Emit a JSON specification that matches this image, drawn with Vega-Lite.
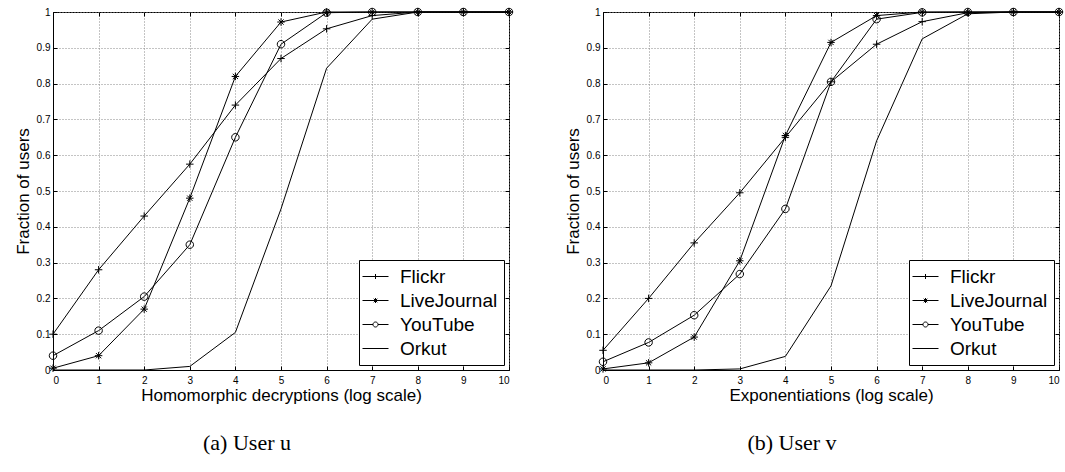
{
  "$schema": "https://vega.github.io/schema/vega-lite/v6.json",
  "padding": {"left": 13, "top": 5, "right": 0, "bottom": 0},
  "background": "white",
  "config": {
    "font": "Liberation Sans",
    "view": {"stroke": "black", "strokeWidth": 1},
    "axis": {"domainColor": "black", "tickColor": "black", "labelColor": "black", "titleColor": "black", "titleFontWeight": "normal", "labelFontSize": 10, "titleFontSize": 17, "gridDash": [1, 2], "gridColor": "#888", "gridOpacity": 1, "tickSize": -4},
    "axisX": {"labelPadding": 9},
    "axisY": {"labelPadding": 7},
    "legend": {"orient": "bottom-right", "offset": 5, "strokeColor": "black", "fillColor": "white", "padding": 6, "cornerRadius": 0, "symbolSize": 400, "symbolStrokeWidth": 1, "symbolStrokeColor": "black", "symbolFillColor": "transparent", "symbolOpacity": 1, "labelFontSize": 19, "labelFont": "Liberation Sans", "labelOffset": 14, "rowPadding": 3, "labelColor": "black", "labelLimit": 300}
  },
  "datasets": {
    "u": [
      {"s": "Flickr", "x": 0, "y": 0.10}, {"s": "Flickr", "x": 1, "y": 0.28}, {"s": "Flickr", "x": 2, "y": 0.43}, {"s": "Flickr", "x": 3, "y": 0.575}, {"s": "Flickr", "x": 4, "y": 0.74}, {"s": "Flickr", "x": 5, "y": 0.87}, {"s": "Flickr", "x": 6, "y": 0.953}, {"s": "Flickr", "x": 7, "y": 0.99}, {"s": "Flickr", "x": 8, "y": 1}, {"s": "Flickr", "x": 9, "y": 1}, {"s": "Flickr", "x": 10, "y": 1},
      {"s": "LiveJournal", "x": 0, "y": 0.005}, {"s": "LiveJournal", "x": 1, "y": 0.04}, {"s": "LiveJournal", "x": 2, "y": 0.17}, {"s": "LiveJournal", "x": 3, "y": 0.48}, {"s": "LiveJournal", "x": 4, "y": 0.82}, {"s": "LiveJournal", "x": 5, "y": 0.972}, {"s": "LiveJournal", "x": 6, "y": 1}, {"s": "LiveJournal", "x": 7, "y": 1}, {"s": "LiveJournal", "x": 8, "y": 1}, {"s": "LiveJournal", "x": 9, "y": 1}, {"s": "LiveJournal", "x": 10, "y": 1},
      {"s": "YouTube", "x": 0, "y": 0.04}, {"s": "YouTube", "x": 1, "y": 0.11}, {"s": "YouTube", "x": 2, "y": 0.205}, {"s": "YouTube", "x": 3, "y": 0.35}, {"s": "YouTube", "x": 4, "y": 0.65}, {"s": "YouTube", "x": 5, "y": 0.91}, {"s": "YouTube", "x": 6, "y": 0.998}, {"s": "YouTube", "x": 7, "y": 1}, {"s": "YouTube", "x": 8, "y": 1}, {"s": "YouTube", "x": 9, "y": 1}, {"s": "YouTube", "x": 10, "y": 1},
      {"s": "Orkut", "x": 0, "y": 0}, {"s": "Orkut", "x": 1, "y": 0}, {"s": "Orkut", "x": 2, "y": 0}, {"s": "Orkut", "x": 3, "y": 0.01}, {"s": "Orkut", "x": 4, "y": 0.105}, {"s": "Orkut", "x": 5, "y": 0.45}, {"s": "Orkut", "x": 6, "y": 0.843}, {"s": "Orkut", "x": 7, "y": 0.98}, {"s": "Orkut", "x": 8, "y": 1}, {"s": "Orkut", "x": 9, "y": 1}, {"s": "Orkut", "x": 10, "y": 1}
    ],
    "v": [
      {"s": "Flickr", "x": 0, "y": 0.055}, {"s": "Flickr", "x": 1, "y": 0.2}, {"s": "Flickr", "x": 2, "y": 0.355}, {"s": "Flickr", "x": 3, "y": 0.495}, {"s": "Flickr", "x": 4, "y": 0.65}, {"s": "Flickr", "x": 5, "y": 0.805}, {"s": "Flickr", "x": 6, "y": 0.91}, {"s": "Flickr", "x": 7, "y": 0.973}, {"s": "Flickr", "x": 8, "y": 0.998}, {"s": "Flickr", "x": 9, "y": 1}, {"s": "Flickr", "x": 10, "y": 1},
      {"s": "LiveJournal", "x": 0, "y": 0.003}, {"s": "LiveJournal", "x": 1, "y": 0.02}, {"s": "LiveJournal", "x": 2, "y": 0.092}, {"s": "LiveJournal", "x": 3, "y": 0.305}, {"s": "LiveJournal", "x": 4, "y": 0.655}, {"s": "LiveJournal", "x": 5, "y": 0.915}, {"s": "LiveJournal", "x": 6, "y": 0.99}, {"s": "LiveJournal", "x": 7, "y": 1}, {"s": "LiveJournal", "x": 8, "y": 1}, {"s": "LiveJournal", "x": 9, "y": 1}, {"s": "LiveJournal", "x": 10, "y": 1},
      {"s": "YouTube", "x": 0, "y": 0.023}, {"s": "YouTube", "x": 1, "y": 0.077}, {"s": "YouTube", "x": 2, "y": 0.153}, {"s": "YouTube", "x": 3, "y": 0.268}, {"s": "YouTube", "x": 4, "y": 0.45}, {"s": "YouTube", "x": 5, "y": 0.805}, {"s": "YouTube", "x": 6, "y": 0.98}, {"s": "YouTube", "x": 7, "y": 0.999}, {"s": "YouTube", "x": 8, "y": 1}, {"s": "YouTube", "x": 9, "y": 1}, {"s": "YouTube", "x": 10, "y": 1},
      {"s": "Orkut", "x": 0, "y": 0}, {"s": "Orkut", "x": 1, "y": 0}, {"s": "Orkut", "x": 2, "y": 0}, {"s": "Orkut", "x": 3, "y": 0.003}, {"s": "Orkut", "x": 4, "y": 0.038}, {"s": "Orkut", "x": 5, "y": 0.235}, {"s": "Orkut", "x": 6, "y": 0.64}, {"s": "Orkut", "x": 7, "y": 0.925}, {"s": "Orkut", "x": 8, "y": 0.995}, {"s": "Orkut", "x": 9, "y": 1}, {"s": "Orkut", "x": 10, "y": 1}
    ]
  },
  "hconcat": [
    {
      "width": 456, "height": 358,
      "data": {"name": "u"},
      "title": {"text": "(a) User u", "orient": "bottom", "font": "Liberation Serif", "fontSize": 22, "fontWeight": "normal", "offset": 30, "anchor": "middle", "dx": -34, "color": "black"},
      "resolve": {"scale": {"shape": "independent"}, "axis": {"x": "independent", "y": "independent"}, "legend": {"shape": "independent"}},
      "layer": [
        {
          "mark": {"type": "line", "color": "black", "strokeWidth": 1},
          "encoding": {
            "x": {"field": "x", "type": "quantitative", "scale": {"domain": [0, 10], "nice": false}, "axis": {"orient": "bottom", "values": [0,1,2,3,4,5,6,7,8,9,10], "grid": true, "title": "Homomorphic decryptions (log scale)", "titlePadding": 2}},
            "y": {"field": "y", "type": "quantitative", "scale": {"domain": [0, 1], "nice": false}, "axis": {"orient": "left", "values": [0,0.1,0.2,0.3,0.4,0.5,0.6,0.7,0.8,0.9,1], "format": "~g", "grid": true, "title": "Fraction of users", "titlePadding": 4}},
            "detail": {"field": "s"}
          }
        },
        {
          "transform": [{"filter": "datum.s !== 'Orkut'"}],
          "mark": {"type": "point", "filled": false, "color": "black", "strokeWidth": 1, "opacity": 1},
          "encoding": {
            "x": {"field": "x", "type": "quantitative", "axis": null},
            "y": {"field": "y", "type": "quantitative", "axis": null},
            "shape": {"field": "s", "type": "nominal", "legend": null, "scale": {"domain": ["Flickr", "LiveJournal", "YouTube"], "range": ["M-1,0L1,0M0,-1L0,1", "M-1,0L1,0M0,-1L0,1M-0.7,-0.7L0.7,0.7M-0.7,0.7L0.7,-0.7", "M1,0A1,1,0,1,1,-1,0A1,1,0,1,1,1,0"]}},
            "size": {"value": 56}
          }
        },
        {
          "mark": {"type": "point", "filled": false, "color": "black", "opacity": 0},
          "encoding": {
            "x": {"field": "x", "type": "quantitative", "axis": {"orient": "top", "values": [0,1,2,3,4,5,6,7,8,9,10], "labels": false, "grid": false, "title": null, "domain": false}},
            "y": {"field": "y", "type": "quantitative", "axis": {"orient": "right", "values": [0,0.1,0.2,0.3,0.4,0.5,0.6,0.7,0.8,0.9,1], "labels": false, "grid": false, "title": null, "domain": false}},
            "shape": {"field": "s", "type": "nominal", "title": null, "scale": {"domain": ["Flickr", "LiveJournal", "YouTube", "Orkut"], "range": ["M-1.3,0L1.3,0M0,-0.25L0,0.25", "M-1.3,0L1.3,0M0,-0.25L0,0.25M-0.18,-0.18L0.18,0.18M-0.18,0.18L0.18,-0.18", "M-1.3,0L-0.25,0M0.25,0L1.3,0M0.25,0A0.25,0.25,0,1,1,-0.25,0A0.25,0.25,0,1,1,0.25,0", "M-1.3,0L1.3,0"]}}
          }
        }
      ]
    },
    {
      "width": 456, "height": 358,
      "data": {"name": "v"},
      "title": {"text": "(b) User v", "orient": "bottom", "font": "Liberation Serif", "fontSize": 22, "fontWeight": "normal", "offset": 30, "anchor": "middle", "dx": -39, "color": "black"},
      "resolve": {"scale": {"shape": "independent"}, "axis": {"x": "independent", "y": "independent"}, "legend": {"shape": "independent"}},
      "layer": [
        {
          "mark": {"type": "line", "color": "black", "strokeWidth": 1},
          "encoding": {
            "x": {"field": "x", "type": "quantitative", "scale": {"domain": [0, 10], "nice": false}, "axis": {"orient": "bottom", "values": [0,1,2,3,4,5,6,7,8,9,10], "grid": true, "title": "Exponentiations (log scale)", "titlePadding": 2}},
            "y": {"field": "y", "type": "quantitative", "scale": {"domain": [0, 1], "nice": false}, "axis": {"orient": "left", "values": [0,0.1,0.2,0.3,0.4,0.5,0.6,0.7,0.8,0.9,1], "format": "~g", "grid": true, "title": "Fraction of users", "titlePadding": 4}},
            "detail": {"field": "s"}
          }
        },
        {
          "transform": [{"filter": "datum.s !== 'Orkut'"}],
          "mark": {"type": "point", "filled": false, "color": "black", "strokeWidth": 1, "opacity": 1},
          "encoding": {
            "x": {"field": "x", "type": "quantitative", "axis": null},
            "y": {"field": "y", "type": "quantitative", "axis": null},
            "shape": {"field": "s", "type": "nominal", "legend": null, "scale": {"domain": ["Flickr", "LiveJournal", "YouTube"], "range": ["M-1,0L1,0M0,-1L0,1", "M-1,0L1,0M0,-1L0,1M-0.7,-0.7L0.7,0.7M-0.7,0.7L0.7,-0.7", "M1,0A1,1,0,1,1,-1,0A1,1,0,1,1,1,0"]}},
            "size": {"value": 56}
          }
        },
        {
          "mark": {"type": "point", "filled": false, "color": "black", "opacity": 0},
          "encoding": {
            "x": {"field": "x", "type": "quantitative", "axis": {"orient": "top", "values": [0,1,2,3,4,5,6,7,8,9,10], "labels": false, "grid": false, "title": null, "domain": false}},
            "y": {"field": "y", "type": "quantitative", "axis": {"orient": "right", "values": [0,0.1,0.2,0.3,0.4,0.5,0.6,0.7,0.8,0.9,1], "labels": false, "grid": false, "title": null, "domain": false}},
            "shape": {"field": "s", "type": "nominal", "title": null, "scale": {"domain": ["Flickr", "LiveJournal", "YouTube", "Orkut"], "range": ["M-1.3,0L1.3,0M0,-0.25L0,0.25", "M-1.3,0L1.3,0M0,-0.25L0,0.25M-0.18,-0.18L0.18,0.18M-0.18,0.18L0.18,-0.18", "M-1.3,0L-0.25,0M0.25,0L1.3,0M0.25,0A0.25,0.25,0,1,1,-0.25,0A0.25,0.25,0,1,1,0.25,0", "M-1.3,0L1.3,0"]}}
          }
        }
      ]
    }
  ],
  "bounds": "flush",
  "spacing": 94
}
